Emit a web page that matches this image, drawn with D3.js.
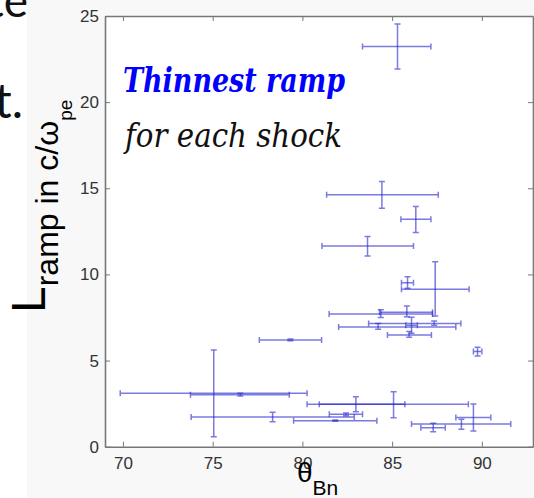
<!DOCTYPE html>
<head>
    <title>Thinnest ramp</title>
    <script src="https://d3js.org/d3.v7.min.js"></script>
    <style>
        body { margin: 0; background: #fff; }
    </style>
</head>
<body>
    <svg width="534" height="498"></svg>
    <script>
        // shock normal angle (deg) with error range
        var theta   = [85.30, 84.43, 86.32, 83.63, 85.86, 87.40, 84.37, 85.82, 84.22, 87.34, 86.08, 85.95,
                       79.33, 89.76, 75.06, 76.54, 85.08, 82.98, 78.34, 82.43, 81.83, 87.29, 88.86, 89.53];
        var thetaLo = [83.35, 81.35, 85.49, 81.09, 85.52, 85.52, 81.49, 84.30, 82.02, 83.69, 85.76, 84.74,
                       77.60, 89.53, 69.85, 73.76, 80.94, 80.26, 73.80, 81.50, 79.51, 86.60, 86.08, 88.55];
        var thetaHi = [87.16, 87.57, 87.16, 86.19, 86.19, 89.29, 87.25, 87.25, 88.55, 88.83, 86.41, 87.19,
                       81.07, 90.00, 80.26, 79.27, 89.25, 85.71, 82.89, 83.35, 84.15, 87.96, 91.61, 90.50];
        // ramp thickness in c/omega_pe with error range
        var lramp   = [23.23, 14.62, 13.20, 11.65, 9.52, 9.14, 7.70, 7.80, 6.95, 7.15, 7.05, 6.49,
                       6.20, 5.52, 3.10, 3.02, 2.46, 2.46, 1.72, 1.88, 1.51, 1.10, 1.32, 1.70];
        var lrampLo = [21.93, 13.84, 12.43, 11.07, 9.20, 7.59, 7.50, 7.55, 6.82, 7.05, 6.58, 6.35,
                       6.15, 5.27, 0.58, 2.95, 1.68, 2.03, 1.45, 1.80, 1.47, 0.87, 1.01, 0.91];
        var lrampHi = [24.53, 15.39, 13.94, 12.20, 9.87, 10.74, 7.95, 8.16, 7.15, 7.30, 7.51, 6.68,
                       6.25, 5.77, 5.62, 3.10, 3.19, 2.90, 2.00, 1.96, 1.55, 1.36, 1.59, 2.48];
        var xTicks = [70, 75, 80, 85, 90];
        var yTicks = [0, 5, 10, 15, 20, 25];

        var svg = d3.select("svg");

        var x = d3.scaleLinear().domain([69, 92.85]).range([105, 533]);
        var y = d3.scaleLinear().domain([0, 25]).range([446.7, 16]);

        // faint figure background, like the pasted image
        svg.append("rect")
            .attr("x", 27).attr("y", 0)
            .attr("width", 507).attr("height", 498)
            .attr("fill", "#f8f8f8");
        svg.append("rect")
            .attr("x", x.range()[0]).attr("y", y.range()[1])
            .attr("width", x.range()[1] - x.range()[0])
            .attr("height", y.range()[0] - y.range()[1])
            .attr("fill", "#fff");

        // leftover slide text
        svg.append("text")
            .attr("x", 28).attr("y", 17)
            .attr("text-anchor", "end")
            .attr("font-family", "Lato")
            .attr("font-size", 46)
            .attr("fill", "#111")
            .text("te");
        svg.append("text")
            .attr("x", 23).attr("y", 118)
            .attr("text-anchor", "end")
            .attr("font-family", "Lato")
            .attr("font-size", 48)
            .attr("fill", "#111")
            .text("t.");

        var axisColor = "#777";

        // axes (matlab style, ticks inside, boxed)
        svg.append("g")
            .attr("transform", "translate(0," + y(0) + ")")
            .call(d3.axisBottom(x).tickValues(xTicks).tickSizeInner(-5).tickSizeOuter(0).tickPadding(10));
        svg.append("g")
            .attr("transform", "translate(0," + y(25) + ")")
            .call(d3.axisTop(x).tickValues(xTicks).tickSizeInner(-5).tickSizeOuter(0).tickFormat(""));
        svg.append("g")
            .attr("transform", "translate(" + x.range()[0] + ",0)")
            .call(d3.axisLeft(y).tickValues(yTicks).tickSizeInner(-5).tickSizeOuter(0).tickPadding(6));
        svg.append("g")
            .attr("transform", "translate(" + x.range()[1] + ",0)")
            .call(d3.axisRight(y).tickValues(yTicks).tickSizeInner(-5).tickSizeOuter(0).tickFormat(""));

        svg.selectAll(".domain").attr("stroke", axisColor).attr("stroke-width", 1.6);
        svg.selectAll(".tick line").attr("stroke", axisColor);
        svg.selectAll(".tick text")
            .attr("fill", "#333")
            .attr("font-family", "Liberation Sans")
            .attr("font-size", 17);

        // error bars
        var bars = svg.append("g")
            .attr("stroke", "#2222cc")
            .attr("stroke-opacity", 0.6)
            .attr("stroke-width", 1.5)
            .attr("fill", "none");

        var idx = d3.range(theta.length);
        var cap = 3;

        bars.selectAll("path.h")
            .data(idx)
            .enter().append("path")
            .attr("class", "h")
            .attr("d", function(i) {
                var x0 = x(thetaLo[i]), x1 = x(thetaHi[i]), yc = y(lramp[i]);
                return "M" + x0 + "," + yc + "H" + x1 +
                    "M" + x0 + "," + (yc - cap) + "V" + (yc + cap) +
                    "M" + x1 + "," + (yc - cap) + "V" + (yc + cap);
            });

        bars.selectAll("path.v")
            .data(idx)
            .enter().append("path")
            .attr("class", "v")
            .attr("d", function(i) {
                var y0 = y(lrampLo[i]), y1 = y(lrampHi[i]), xc = x(theta[i]);
                return "M" + xc + "," + y0 + "V" + y1 +
                    "M" + (xc - cap) + "," + y0 + "H" + (xc + cap) +
                    "M" + (xc - cap) + "," + y1 + "H" + (xc + cap);
            });

        // annotations
        var t1 = svg.append("text")
            .attr("x", 123).attr("y", 92)
            .attr("font-family", "DejaVu Serif")
            .attr("font-style", "italic")
            .attr("font-weight", "bold")
            .attr("font-size", 33)
            .attr("fill", "#0000ff")
            .text("Thinnest ramp");
        var t2 = svg.append("text")
            .attr("x", 125).attr("y", 147)
            .attr("font-family", "DejaVu Serif")
            .attr("font-style", "italic")
            .attr("font-size", 33)
            .attr("fill", "#111")
            .text("for each shock");
        // squeeze to the width seen in the picture
        t1.attr("textLength", 222).attr("lengthAdjust", "spacingAndGlyphs");
        t2.attr("textLength", 217).attr("lengthAdjust", "spacingAndGlyphs");

        // y label: L_ramp in c/omega_pe
        var ylab = svg.append("text")
            .attr("transform", "translate(45,313) rotate(-90)")
            .attr("font-family", "Liberation Sans")
            .attr("fill", "#000");
        ylab.append("tspan").attr("font-size", 48).text("L");
        ylab.append("tspan").attr("font-size", 32).attr("dy", 13).text("ramp in c/\u03c9");
        ylab.append("tspan").attr("font-size", 19).attr("dy", 14).text("pe");

        // x label: theta_Bn
        var xlab = svg.append("text")
            .attr("x", 297).attr("y", 482)
            .attr("font-family", "Liberation Sans")
            .attr("fill", "#000");
        xlab.append("tspan").attr("font-size", 28).text("\u03b8");
        xlab.append("tspan").attr("font-size", 21).attr("dy", 13).text("Bn");
    </script>
</body>
